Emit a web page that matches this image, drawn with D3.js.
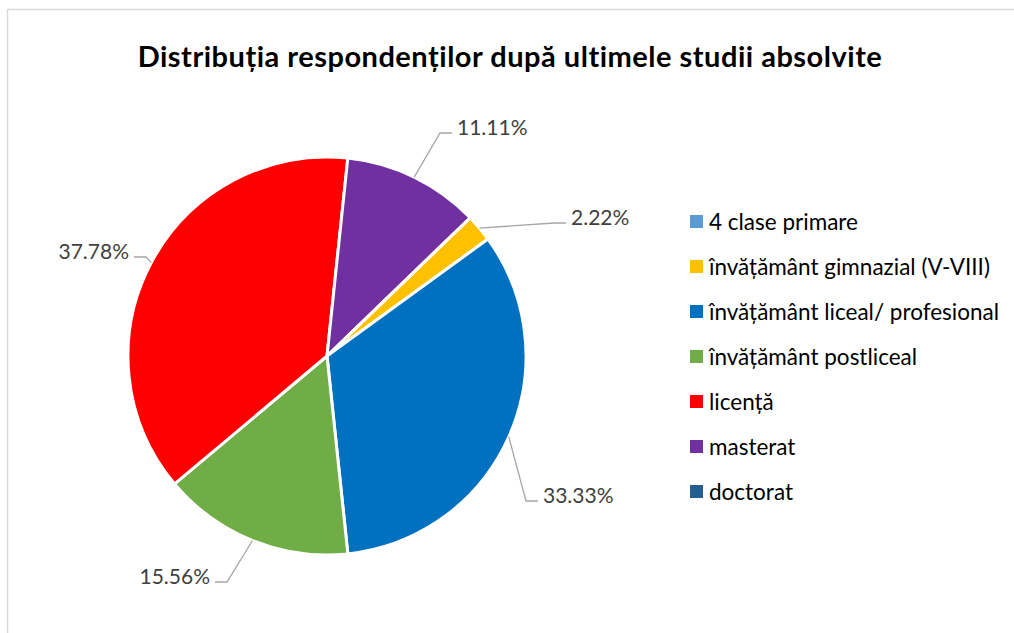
<!DOCTYPE html>
<html>
<head>
<meta charset="utf-8">
<script src="https://cdn.jsdelivr.net/npm/d3@7"></script>
<style>
  body { margin: 0; background: #fff; }
  svg { display: block; font-family: Lato, "Open Sans", sans-serif; }
</style>
</head>
<body>
<svg id="chart"></svg>
<script>
const categories = [
  '4 clase primare',
  'învățământ gimnazial (V-VIII)',
  'învățământ liceal/ profesional',
  'învățământ postliceal',
  'licență',
  'masterat',
  'doctorat'
];
const shares = [0, 2.22, 33.33, 15.56, 37.78, 11.11, 0];
const colors = ['#5B9BD5', '#FFC000', '#0070C0', '#70AD47', '#FF0000', '#7030A0', '#255E91'];
const title = 'Distribuția respondenților după ultimele studii absolvite';

// where the label leader ends, relative to pie centre (hand placed like excel's best fit)
const labelSpots = {
  'învățământ gimnazial (V-VIII)': { end: [239, -133], side: 1 },
  'învățământ liceal/ profesional': { end: [211, 145], side: 1 },
  'învățământ postliceal': { end: [-112, 226], side: -1 },
  'licență': { end: [-193, -99], side: -1 },
  'masterat': { end: [125, -223], side: 1 }
};

const width = 1014;
const height = 633;
const cx = 327, cy = 356, radius = 199;
const start = 46 * Math.PI / 180;

const svg = d3.select('#chart')
  .attr('width', width)
  .attr('height', height);

// chart area border
svg.append('rect')
  .attr('x', 7.5)
  .attr('y', 9.5)
  .attr('width', 1200)
  .attr('height', 800)
  .attr('fill', 'none')
  .attr('stroke', '#d9d9d9')
  .attr('stroke-width', 1.5);

svg.append('text')
  .attr('x', 510)
  .attr('y', 67)
  .attr('text-anchor', 'middle')
  .attr('font-size', 29)
  .attr('font-weight', 'bold')
  .attr('letter-spacing', 0.5)
  .attr('fill', '#000')
  .text(title);

const data = categories.map((c, i) => ({ name: c, value: shares[i], color: colors[i] }));

const pie = d3.pie()
  .sort(null)
  .value(d => d.value)
  .startAngle(start)
  .endAngle(start + 2 * Math.PI);

const arc = d3.arc().innerRadius(0).outerRadius(radius);

const g = svg.append('g').attr('transform', `translate(${cx},${cy})`);

const arcs = pie(data);

g.selectAll('path')
  .data(arcs)
  .enter().append('path')
  .attr('d', arc)
  .attr('fill', d => d.data.color)
  .attr('stroke', '#fff')
  .attr('stroke-width', 3)
  .attr('stroke-linejoin', 'round');

// data labels with leader lines
const labelled = arcs.filter(d => d.data.value > 0);

labelled.forEach(d => {
  const spot = labelSpots[d.data.name];
  const mid = (d.startAngle + d.endAngle) / 2;
  const edge = [Math.sin(mid) * radius, -Math.cos(mid) * radius];
  const end = spot.end;
  const elbow = [end[0] - spot.side * 12, end[1]];

  g.append('polyline')
    .attr('points', [edge, elbow, end].map(p => p.join(',')).join(' '))
    .attr('fill', 'none')
    .attr('stroke', '#a6a6a6')
    .attr('stroke-width', 1.3);

  g.append('text')
    .attr('x', end[0] + spot.side * 5)
    .attr('y', end[1] + 2)
    .attr('text-anchor', spot.side > 0 ? 'start' : 'end')
    .attr('font-size', 21)
    .attr('fill', '#404040')
    .text(d3.format('.2f')(d.data.value) + '%');
});

// legend
const legend = svg.append('g').attr('transform', 'translate(690,222)');

const rows = legend.selectAll('g')
  .data(data)
  .enter().append('g')
  .attr('transform', (d, i) => `translate(0,${i * 45})`);

rows.append('rect')
  .attr('x', 0)
  .attr('y', -7)
  .attr('width', 13)
  .attr('height', 13)
  .attr('fill', d => d.color);

rows.append('text')
  .attr('x', 19)
  .attr('y', 8)
  .attr('font-size', 22.5)
  .attr('fill', '#000')
  .text(d => d.name);
</script>
</body>
</html>
